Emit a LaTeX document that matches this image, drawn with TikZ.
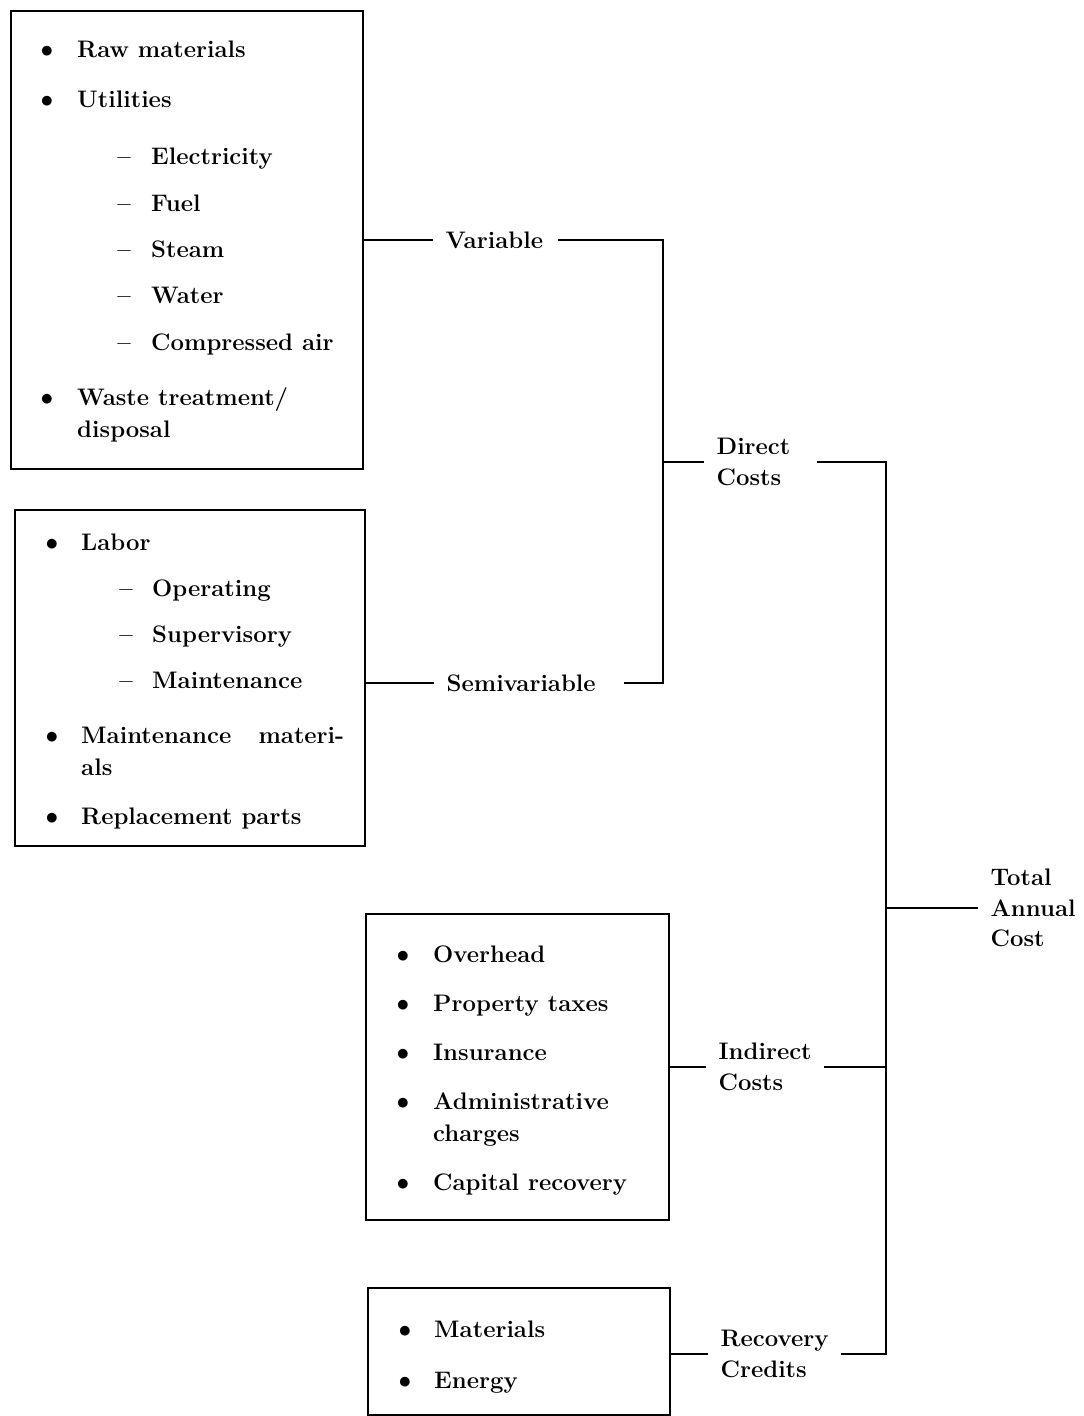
\documentclass[tikz,border=0pt]{standalone}
\begin{document}
\begin{tikzpicture}[x=0.02cm, y=-0.02cm, line width=1.4pt,
	every node/.style={font=\fontsize{13.6}{17.5}\selectfont\bfseries},
	box/.style={draw, anchor=north west, inner sep=0pt},
	bul/.style={anchor=base, inner sep=0pt},
	item/.style={anchor=base west, inner sep=0pt},
	lbl/.style={anchor=west, align=left, inner xsep=6.5pt, inner ysep=0pt}]
	\useasboundingbox (0,0) rectangle (1084,1416);
	
	% 1. 四个成本框
	\node[box, minimum width=7.04cm, minimum height=9.16cm] (varbox) at (10,10) {};
	\node[box, minimum width=7.00cm, minimum height=6.72cm] (semibox) at (14,509) {};
	\node[box, minimum width=6.06cm, minimum height=6.12cm] (indbox) at (365,913) {};
	\node[box, minimum width=6.04cm, minimum height=2.54cm] (recbox) at (367,1287) {};
	
	% 2. 可变成本条目
	\foreach \y/\t [count=\i] in {58/Raw materials, 108/Utilities, 405/{Waste treatment/}} {
		\node[bul] (vb\i) at (47,\y) {$\bullet$};
		\node[item] (vt\i) at (76,\y) {\t};
	}
	\node[item] (vcont) at (76,437) {disposal};
	\foreach \y/\t [count=\i] in {164/Electricity, 211/Fuel, 257/Steam, 303/Water, 350/Compressed air} {
		\node[bul] (vd\i) at (124,\y) {--};
		\node[item] (vs\i) at (150,\y) {\t};
	}
	
	% 3. 半可变成本条目
	\foreach \y/\t [count=\i] in {550/Labor, 743/{\makebox[5.26cm][s]{Maintenance materi-}}, 824/Replacement parts} {
		\node[bul] (sb\i) at (52,\y) {$\bullet$};
		\node[item] (st\i) at (80,\y) {\t};
	}
	\node[item] (scont) at (80,775) {als};
	\foreach \y/\t [count=\i] in {596/Operating, 642/Supervisory, 688/Maintenance} {
		\node[bul] (sd\i) at (126,\y) {--};
		\node[item] (ss\i) at (151,\y) {\t};
	}
	
	% 4. 间接成本与回收抵扣条目
	\foreach \y/\t [count=\i] in {962/Overhead, 1011/Property taxes, 1060/Insurance, 1109/Administrative, 1190/Capital recovery} {
		\node[bul] (ib\i) at (403,\y) {$\bullet$};
		\node[item] (it\i) at (432,\y) {\t};
	}
	\node[item] (icont) at (432,1141) {charges};
	\foreach \y/\t [count=\i] in {1337/Materials, 1388/Energy} {
		\node[bul] (rb\i) at (405,\y) {$\bullet$};
		\node[item] (rt\i) at (433,\y) {\t};
	}
	
	% 5. 分类标签
	\node[lbl, text width=2.0cm] (var) at (433,240) {Variable};
	\node[lbl, text width=3.3cm] (semi) at (434,683) {Semivariable};
	\node[lbl, text width=1.76cm] (direct) at (704,462) {Direct\\Costs};
	\node[lbl] (indir) at (706,1067) {Indirect\\Costs};
	\node[lbl] (recov) at (708,1354) {Recovery\\Credits};
	\node[lbl] (total) at (978,908) {Total\\Annual\\Cost};
	
	% 6. 汇总连线
	\coordinate (dbus) at (663,240);
	\coordinate (tbus) at (886,461);
	\draw (varbox.east |- var.west) -- (var.west);
	\draw (var.east) -| (dbus) |- (semi.east);
	\draw (semibox.east |- semi.west) -- (semi.west);
	\draw (dbus |- direct.west) -- (direct.west);
	\draw (direct.east) -| (tbus) |- (recov.east);
	\draw (indir.east) -- (indir.east -| tbus);
	\draw (tbus |- total.west) -- (total.west);
	\draw (indbox.east |- indir.west) -- (indir.west);
	\draw (recbox.east |- recov.west) -- (recov.west);
\end{tikzpicture}
\end{document}
